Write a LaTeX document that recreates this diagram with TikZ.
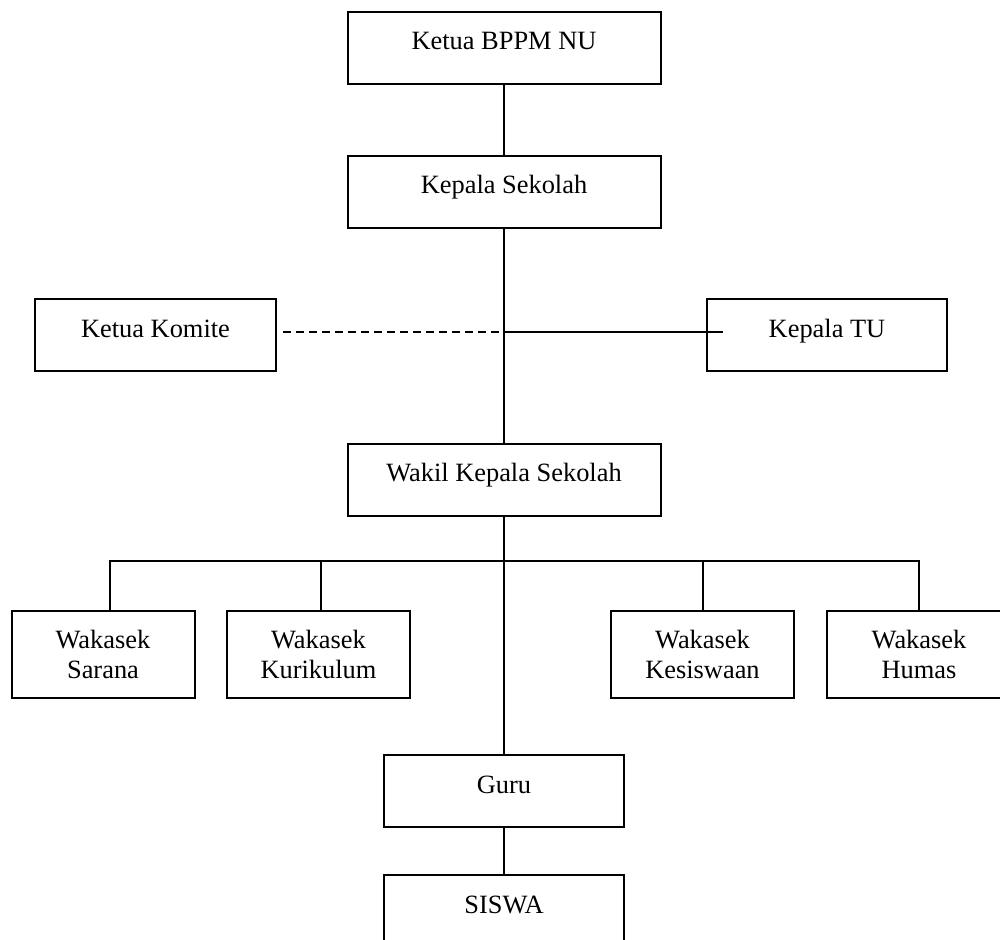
\documentclass[tikz,border=0pt]{standalone}
\usepackage{fontspec}
\setmainfont{Liberation Serif}
\usetikzlibrary{positioning}
\tikzset{
    unit/.style={
           rectangle,
           draw=black, line width=1pt,
           minimum width=156.5pt,
           inner xsep=2pt, inner ysep=0pt,
           text height=19pt, text depth=17pt,
           font=\fontsize{13.2}{15}\selectfont,
           },
    wakasek/.style={
           rectangle,
           draw=black, line width=1pt,
           minimum width=91.5pt, minimum height=43.5pt,
           inner sep=0pt,
           align=center,
           font=\fontsize{13.2}{15}\selectfont,
           },
}

\begin{document}
\begin{tikzpicture}[x=0.5pt,y=-0.5pt,line width=1pt]
  \useasboundingbox (0,0) rectangle (1000,939);
  \clip (0,0) rectangle (1000,939);

  \node[unit]                          (Ketua)     at (504,47.5)  {Ketua BPPM NU};
  \node[unit]                          (Kepsek)    at (504,191.5) {Kepala Sekolah};
  \node[unit, minimum width=120.5pt]   (Komite)    at (155.5,335) {Ketua Komite};
  \node[unit, minimum width=120pt]     (KepalaTU)  at (827,335)   {Kepala TU};
  \node[unit]                          (Wakil)     at (504,479.5) {Wakil Kepala Sekolah};
  \node[wakasek]                       (Sarana)    at (103,654.5)   {Wakasek\\Sarana};
  \node[wakasek]                       (Kurikulum) at (318.5,654.5) {Wakasek\\Kurikulum};
  \node[wakasek]                       (Kesiswaan) at (702.5,654.5) {Wakasek\\Kesiswaan};
  \node[wakasek, minimum width=92pt]   (Humas)     at (919,654.5)   {Wakasek\\Humas};
  \node[unit, minimum width=120pt]     (Guru)      at (504,791)   {Guru};
  \node[unit, minimum width=120pt]     (Siswa)     at (504,911)   {SISWA};

  \coordinate (Pusat)  at (504,332);
  \coordinate (TUend)  at (723,332);
  \coordinate (Cabang) at (504,561);

  \draw (Ketua) -- (Kepsek);
  \draw (Kepsek) -- (Wakil);
  \draw[dash pattern=on 4pt off 2.5pt, shorten <=3pt] (Komite.east |- Pusat) -- (Pusat);
  \draw (Pusat) -- (TUend);
  \draw (Wakil) -- (Guru);
  \draw ([xshift=3.5pt]Sarana.north) |- (Humas.north |- Cabang) -- (Humas.north);
  \draw ([xshift=1pt]Kurikulum.north) -- ([xshift=1pt]Kurikulum.north |- Cabang);
  \draw (Kesiswaan.north) -- (Kesiswaan.north |- Cabang);
  \draw (Guru) -- (Siswa);

\end{tikzpicture}
\end{document}
